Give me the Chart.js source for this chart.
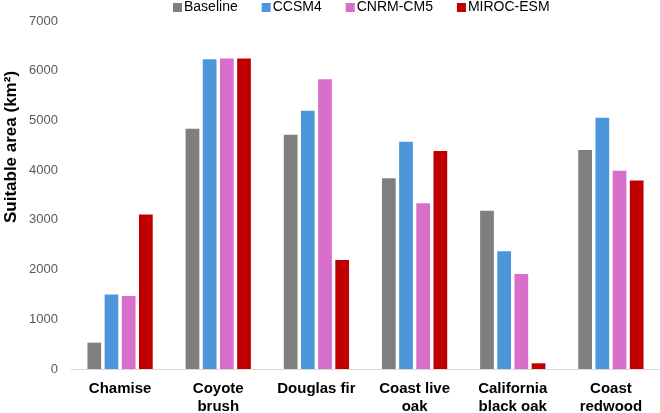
<!DOCTYPE html>
<html>
<head>
<meta charset="utf-8">
<script src="https://cdn.jsdelivr.net/npm/chart.js@4"></script>
<style>
    html, body { margin: 0; padding: 0; background: #ffffff; }
    #wrap { width: 660px; height: 413px; }
</style>
</head>
<body>
<div id="wrap"><canvas id="myChart" width="660" height="413"></canvas></div>
<script>
const speciesLabels = [
    'Chamise',
    ['Coyote', 'brush'],
    'Douglas fir',
    ['Coast live', 'oak'],
    ['California', 'black oak'],
    ['Coast', 'redwood']
];

const baselineData = [530, 4835, 4710, 3835, 3185, 4405];
const ccsm4Data = [1500, 6230, 5195, 4570, 2370, 5055];
const cnrmData = [1470, 6245, 5830, 3335, 1910, 3990];
const mirocData = [3110, 6245, 2195, 4385, 115, 3790];

const yTicks = [0, 1000, 2000, 3000, 4000, 5000, 6000, 7000];
const yTitle = 'Suitable area (km²)';

const CONFIG_COLORS = ['#7f7f7f', '#4e96db', '#d86ecc', '#c00000'];
const FONT_FAMILY = '"Liberation Sans", Arial, sans-serif';

function makeSet(label, data, color) {
    return {
        label: label,
        data: data,
        backgroundColor: color,
        borderWidth: 0,
        barPercentage: 0.8,
        categoryPercentage: 0.7
    };
}

// excel-like legend (tight box/text gap) and the off-centre axis title
const sideText = {
    id: 'sideText',
    afterDraw: function (chart) {
        const c = chart.ctx;
        c.save();
        c.font = '14px ' + FONT_FAMILY;
        c.textBaseline = 'middle';
        c.textAlign = 'left';
        let x = 173;
        const y = 7;
        chart.data.datasets.forEach(function (ds) {
            c.fillStyle = ds.backgroundColor;
            c.fillRect(x, y - 4, 9, 9);
            c.fillStyle = '#000000';
            c.fillText(ds.label, x + 11, y + 0.5);
            x += 11 + c.measureText(ds.label).width + 24;
        });

        c.font = 'bold 17px ' + FONT_FAMILY;
        c.translate(11, 147);
        c.rotate(-Math.PI / 2);
        c.textAlign = 'center';
        c.fillText(yTitle, 0, 0);
        c.restore();
    }
};

function drawChart() {
    const ctx = document.getElementById('myChart').getContext('2d');
    const myChart = new Chart(ctx, {
        type: 'bar',
        data: {
            labels: speciesLabels,
            datasets: [
                makeSet('Baseline', baselineData, CONFIG_COLORS[0]),
                makeSet('CCSM4', ccsm4Data, CONFIG_COLORS[1]),
                makeSet('CNRM-CM5', cnrmData, CONFIG_COLORS[2]),
                makeSet('MIROC-ESM', mirocData, CONFIG_COLORS[3])
            ]
        },
        plugins: [sideText],
        options: {
            responsive: false,
            animation: false,
            layout: { padding: { left: 0, right: 0, top: 21, bottom: 0 } },
            plugins: {
                legend: { display: false },
                tooltip: { enabled: false }
            },
            scales: {
                x: {
                    grid: { display: false },
                    border: { display: true, color: '#d9d9d9', width: 1 },
                    ticks: {
                        color: '#000000',
                        padding: 3,
                        maxRotation: 0,
                        autoSkip: false,
                        font: { family: FONT_FAMILY, size: 15, weight: 'bold', lineHeight: 1.2 }
                    },
                    afterFit: function (scale) { scale.height = 44; }
                },
                y: {
                    min: 0,
                    max: 7000,
                    afterBuildTicks: function (scale) {
                        scale.ticks = yTicks.map(function (v) { return { value: v }; });
                    },
                    grid: { display: false },
                    border: { display: false },
                    ticks: {
                        color: '#595959',
                        padding: 5,
                        font: { family: FONT_FAMILY, size: 13 },
                        callback: function (v) { return String(v); }
                    },
                    afterFit: function (scale) { scale.width = 71; }
                }
            }
        }
    });
}

drawChart();
</script>
</body>
</html>
